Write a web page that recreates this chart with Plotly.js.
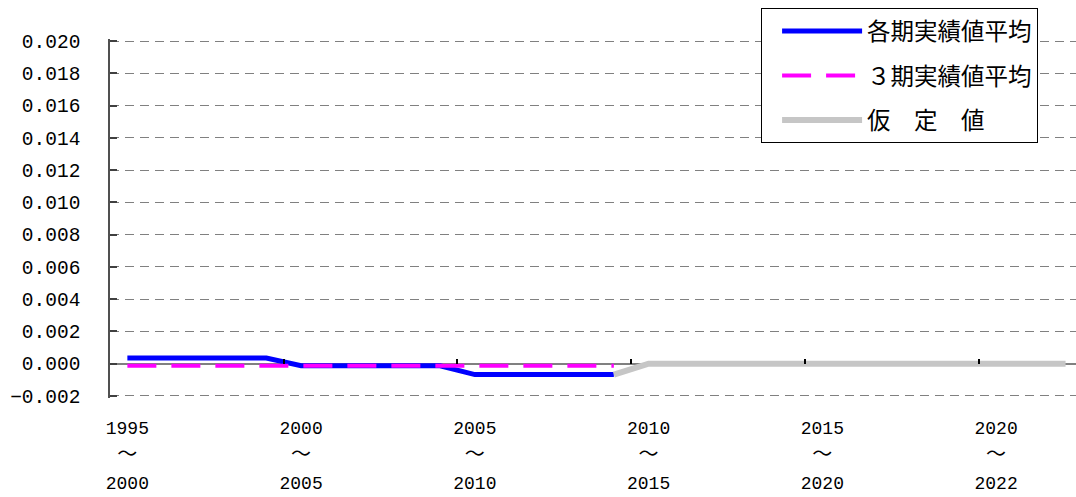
<!DOCTYPE html>
<html>
<head>
<meta charset="utf-8">
<script src="https://cdn.plot.ly/plotly-3.0.1.min.js"></script>
<style>
  html, body { margin: 0; padding: 0; background: #ffffff; }
  #chart { width: 1076px; height: 497px; }
</style>
</head>
<body>
<div id="chart"></div>
<script>
  "use strict";

  const YEARS = [1995, 1996, 1997, 1998, 1999, 2000, 2001, 2002, 2003, 2004,
    2005, 2006, 2007, 2008, 2009, 2010, 2011, 2012, 2013, 2014,
    2015, 2016, 2017, 2018, 2019, 2020, 2021, 2022];

  const PERIOD_AVG = [0.00035, 0.00035, 0.00035, 0.00035, 0.00035,
    -0.00013, -0.00013, -0.00013, -0.00013, -0.00013,
    -0.00068, -0.00068, -0.00068, -0.00068, -0.00068,
    null, null, null, null, null, null, null, null, null, null, null, null, null];

  const THREE_PERIOD_AVG = [-0.00013, -0.00013, -0.00013, -0.00013, -0.00013,
    -0.00013, -0.00013, -0.00013, -0.00013, -0.00013,
    -0.00013, -0.00013, -0.00013, -0.00013, -0.00013,
    null, null, null, null, null, null, null, null, null, null, null, null, null];

  const ASSUMED = [null, null, null, null, null, null, null, null, null, null,
    null, null, null, null, -0.00068,
    0, 0, 0, 0, 0, 0, 0, 0, 0, 0, 0, 0, 0];

  const TICK_YEARS = [1995, 2000, 2005, 2010, 2015, 2020];
  const TICK_FROM = ["1995", "2000", "2005", "2010", "2015", "2020"];
  const TICK_TO = ["2000", "2005", "2010", "2015", "2020", "2022"];

  // a hair of padding so the grid lines at -0.002 and 0.020 are kept
  const Y_MIN = -0.00213;
  const Y_MAX = 0.02013;
  const X_RANGE = [1994.5, 2022.3];

  const NUM_FONT = "Liberation Mono, DejaVu Sans Mono, monospace";
  const JP_FONT = "Noto Sans CJK JP, sans-serif";

  // two-line period labels, wave dash in the CJK font
  const tickText = TICK_FROM.map((from, i) =>
    `<span style="font-size:18px">${from}</span><br>` +
    `<span style="font-family:'Noto Sans CJK JP';font-size:20px">～</span><br>` +
    `<span style="font-size:18px">${TICK_TO[i]}</span>`
  );

  const traces = [
    {
      type: "scatter", mode: "lines", name: "各期実績値平均",
      x: YEARS, y: PERIOD_AVG, legendgroup: "a",
      line: { color: "#0000ff", width: 5 }
    },
    {
      type: "scatter", mode: "lines", name: "３期実績値平均",
      x: YEARS, y: THREE_PERIOD_AVG, legendgroup: "b",
      line: { color: "#ff00ff", width: 4, dash: "29px,15px" }
    },
    {
      type: "scatter", mode: "lines", name: "仮　定　値",
      x: YEARS, y: ASSUMED, legendgroup: "c", xaxis: "x2",
      line: { color: "#c6c6c6", width: 6 }
    }
  ];

  const layout = {
    width: 1076,
    height: 497,
    paper_bgcolor: "#ffffff",
    plot_bgcolor: "#ffffff",
    margin: { l: 110, r: 0, t: 39, b: 99 },
    showlegend: true,
    legend: {
      x: 0.674, xanchor: "left",
      y: 1.086, yanchor: "top",
      bgcolor: "#ffffff",
      bordercolor: "#000000",
      borderwidth: 1,
      indentation: 15,
      itemwidth: 80,
      entrywidth: 192,
      entrywidthmode: "pixels",
      tracegroupgap: 11,
      font: { family: JP_FONT, size: 23.5, color: "#000000" }
    },
    xaxis: {
      type: "linear",
      range: X_RANGE,
      tickmode: "array",
      tickvals: TICK_YEARS,
      ticktext: tickText,
      ticks: "",
      showgrid: false,
      zeroline: false,
      showline: false,
      ticklabelstandoff: 14,
      tickfont: { family: NUM_FONT, size: 21, color: "#000000" }
    },
    xaxis2: {
      overlaying: "x",
      matches: "x",
      anchor: "free",
      position: (0 - Y_MIN) / (Y_MAX - Y_MIN),
      side: "bottom",
      tick0: 1994.5,
      dtick: 5,
      ticks: "inside",
      ticklen: 5,
      tickwidth: 1.5,
      tickcolor: "#000000",
      showticklabels: false,
      showgrid: false,
      zeroline: false,
      showline: false
    },
    yaxis: {
      range: [Y_MIN, Y_MAX],
      dtick: 0.002,
      tick0: 0,
      tickformat: ".3f",
      ticks: "inside",
      ticklen: 7,
      tickwidth: 1.5,
      tickcolor: "#404040",
      showline: true,
      linecolor: "#505050",
      linewidth: 1.5,
      showgrid: true,
      gridcolor: "#808080",
      gridwidth: 1,
      griddash: "9px,6px",
      zeroline: true,
      zerolinecolor: "#808080",
      zerolinewidth: 2,
      ticklabelstandoff: 24,
      tickfont: { family: NUM_FONT, size: 19.5, color: "#000000" }
    }
  };

  Plotly.newPlot("chart", traces, layout, { displayModeBar: false, responsive: false });
</script>
</body>
</html>
